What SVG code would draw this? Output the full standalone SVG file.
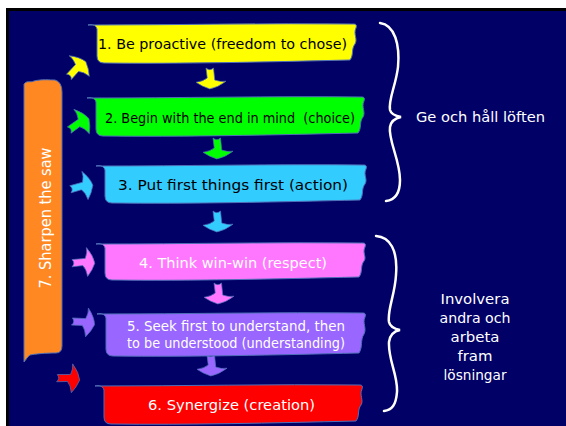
<svg xmlns="http://www.w3.org/2000/svg" xmlns:xlink="http://www.w3.org/1999/xlink" width="566" height="426" viewBox="0 0 566 426">
<style>
.box{stroke:#4f6fb8;stroke-width:1}
.t{font-family:"DejaVu Sans","Liberation Sans",sans-serif;font-size:14px}
.dk{fill:#000000}
.wt{fill:#ffffff}
.brace{fill:none;stroke:#ffffff;stroke-width:2.5;stroke-linecap:round}
.arr{stroke:#4f6fb8;stroke-width:0.6}
</style>
<defs>
<path id="ar" d="M-10,-2 L1,-3 Q3,-8 2,-12 Q8,-5 9,1 Q7,7 3,12 Q2,6 -1,3 L-10,4 Q-7,1 -10,-2 Z"/>
</defs>
<rect x="0" y="0" width="566" height="426" fill="#ffffff"/>
<rect x="6" y="8" width="560" height="418" fill="#000000"/>
<rect x="9" y="11" width="557" height="415" fill="#000066"/>

<g id="connectors">
<use xlink:href="#ar" class="arr" fill="#ffff00" transform="translate(77,68) rotate(-42) scale(1.2)"/>
<use xlink:href="#ar" class="arr" fill="#00ff00" transform="translate(79,123) rotate(-30) scale(1.2)"/>
<use xlink:href="#ar" class="arr" fill="#33ccff" transform="translate(82,186) rotate(-10) scale(1.2)"/>
<use xlink:href="#ar" class="arr" fill="#ff77ff" transform="translate(84,262) scale(1.2)"/>
<use xlink:href="#ar" class="arr" fill="#9966ff" transform="translate(84,322) rotate(8) scale(1.2)"/>
<use xlink:href="#ar" class="arr" fill="#ff0000" transform="translate(69,378) rotate(5) scale(1.2)"/>
<use xlink:href="#ar" class="arr" fill="#ffff00" transform="translate(211,79) rotate(90) scale(1.1,1.25)"/>
<use xlink:href="#ar" class="arr" fill="#00ff00" transform="translate(218,149) rotate(90) scale(1.1,1.25)"/>
<use xlink:href="#ar" class="arr" fill="#33ccff" transform="translate(218,222) rotate(90) scale(1.1,1.25)"/>
<use xlink:href="#ar" class="arr" fill="#ff77ff" transform="translate(219,294) rotate(90) scale(1.1,1.25)"/>
<use xlink:href="#ar" class="arr" fill="#9966ff" transform="translate(212,366) rotate(90) scale(1.1,1.25)"/>
<path class="brace" d="M380,23 C395,25 400,45 398,67 C396,85 388,100 390,110 C391,114 396,116 401,117 C396,118 391,121 390,127 C388,140 400,160 400,180 C400,193 395,200 386,201"/>
<path class="brace" d="M376,236 C390,237 398,250 396,275 C395,295 387,310 389,322 C390,327 395,329 400,330 C395,331 390,334 389,342 C388,360 398,375 397,392 C396,405 392,410 384,411"/>
</g>

<g id="node1">
<path class="box" fill="#ffff00" d="M88,25 C92,24 96,25 97,29 L97,56 Q97,63 104,63 C178,64 267,62 350,60 C354,55 351,49 355,44 C358,39 353,34 356,28 C357,25 356,24 354,24 C267,23 178,25 88,25 Z"/>
<text class="t dk" x="98" y="49" textLength="249" lengthAdjust="spacingAndGlyphs">1. Be proactive (freedom to chose)</text>
</g>
<g id="node2">
<path class="box" fill="#00ff00" d="M87,98 C91,97 95,98 96,102 L96,129 Q96,136 103,136 C177,137 275,135 358,133 C362,128 359,122 363,117 C366,112 361,107 364,101 C365,98 364,97 362,97 C275,96 177,98 87,98 Z"/>
<text class="t dk" x="105" y="123" textLength="250" lengthAdjust="spacingAndGlyphs" xml:space="preserve">2. Begin with the end in mind  (choice)</text>
</g>
<g id="node3">
<path class="box" fill="#33ccff" d="M96,166 C100,165 104,166 105,170 L105,196 Q105,203 112,203 C186,204 277,202 360,200 C364,195 361,189 365,184 C368,179 363,175 366,169 C367,166 366,165 364,165 C277,164 186,166 96,166 Z"/>
<text class="t dk" x="118" y="190" textLength="230" lengthAdjust="spacingAndGlyphs">3. Put first things first (action)</text>
</g>
<g id="node4">
<path class="box" fill="#ff77ff" d="M96,244 C100,243 104,244 105,248 L105,273 Q105,280 112,280 C186,281 276,279 359,277 C363,272 360,266 364,261 C367,257 362,253 365,247 C366,244 365,243 363,243 C276,242 186,244 96,244 Z"/>
<text class="t wt" x="139" y="268" textLength="188" lengthAdjust="spacingAndGlyphs">4. Think win-win (respect)</text>
</g>
<g id="node5">
<path class="box" fill="#9966ff" d="M97,314 C101,313 105,314 106,318 L106,349 Q106,356 113,356 C187,357 276,355 359,353 C363,347 360,340 364,334 C367,328 362,323 365,317 C366,314 365,313 363,313 C276,312 187,314 97,314 Z"/>
<text class="t wt" x="127" y="331" textLength="218" lengthAdjust="spacingAndGlyphs">5. Seek first to understand, then</text>
<text class="t wt" x="127" y="348" textLength="218" lengthAdjust="spacingAndGlyphs">to be understood (understanding)</text>
</g>
<g id="node6">
<path class="box" fill="#ff0000" d="M95,386 C99,385 103,386 104,390 L104,417 Q104,424 111,424 C185,425 273,423 356,421 C360,416 357,410 361,405 C364,400 359,395 362,389 C363,386 362,385 360,385 C273,384 185,386 95,386 Z"/>
<text class="t wt" x="148" y="410" textLength="167" lengthAdjust="spacingAndGlyphs">6. Synergize (creation)</text>
</g>
<g id="node7">
<path class="box" fill="#ff8822" d="M24,84 C27,80 30,83 34,81 C42,79 50,80 55,80 Q62,82 62,92 L62,346 Q62,353 56,353 C45,353 35,354 30,355 C27,357 26,360 24,362 Z"/>
<text class="t wt" style="font-size:15px" text-anchor="middle" transform="translate(51,218) rotate(-90)" textLength="141" lengthAdjust="spacingAndGlyphs">7. Sharpen the saw</text>
</g>
<g id="label1">
<text class="t wt" x="416" y="122" textLength="129" lengthAdjust="spacingAndGlyphs">Ge och håll löften</text>
</g>
<g id="label2">
<text class="t wt" text-anchor="middle" x="475" y="304" textLength="69" lengthAdjust="spacingAndGlyphs">Involvera</text>
<text class="t wt" text-anchor="middle" x="475" y="323" textLength="71" lengthAdjust="spacingAndGlyphs">andra och</text>
<text class="t wt" text-anchor="middle" x="475" y="342" textLength="49" lengthAdjust="spacingAndGlyphs">arbeta</text>
<text class="t wt" text-anchor="middle" x="475" y="361" textLength="35" lengthAdjust="spacingAndGlyphs">fram</text>
<text class="t wt" text-anchor="middle" x="475" y="380" textLength="63" lengthAdjust="spacingAndGlyphs">lösningar</text>
</g>
</svg>
